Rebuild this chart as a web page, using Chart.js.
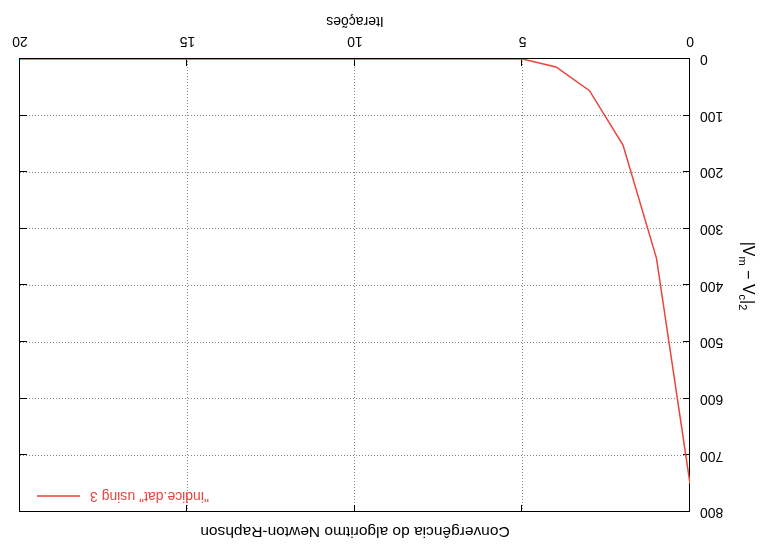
<!DOCTYPE html>
<html>
<head>
<meta charset="utf-8">
<title>Convergência do algoritmo Newton-Raphson</title>
<script src="https://cdn.jsdelivr.net/npm/chart.js@4.4.1/dist/chart.umd.min.js"></script>
<style>
    body { margin: 0; background: #fff; }
    #convChart { display: block; transform: rotate(180deg); }
</style>
</head>
<body>
<canvas id="convChart" width="763" height="544"></canvas>
<script>
// dados (iteracao x |Vm - Vc|2)
var iteracoes = [0, 1, 2, 3, 4, 5, 6, 7, 8, 9, 10, 11, 12, 13, 14, 15, 16, 17, 18, 19, 20];
var residuo = [750, 352, 152, 56, 14, 0, 0, 0, 0, 0, 0, 0, 0, 0, 0, 0, 0, 0, 0, 0, 0];
var xTicks = [0, 5, 10, 15, 20];
var yTicks = [0, 100, 200, 300, 400, 500, 600, 700, 800];

var titulo = 'Convergência do algoritmo Newton-Raphson';
var serieLabel = '"indice.dat" using 3';
var corSerie = '#e8453c';
var fonte = 'Liberation Sans, Arial, sans-serif';

var pontos = [];
for (var i = 0; i < iteracoes.length; i++) {
    pontos.push({ x: iteracoes[i], y: residuo[i] });
}

// moldura, ticks internos, titulo, legenda e rotulo do eixo y no estilo gnuplot
var GnuplotHelper = {
    id: 'gnuplotHelper',

    beforeDatasetsDraw: function (chart) {
        var c = chart.ctx;
        var a = chart.chartArea;
        var xs = chart.scales.x;
        var ys = chart.scales.y;
        var tl = 7;

        c.save();
        c.strokeStyle = '#000';
        c.lineWidth = 1;
        c.strokeRect(Math.round(a.left) + 0.5, Math.round(a.top) + 0.5,
            Math.round(a.right - a.left), Math.round(a.bottom - a.top));

        c.beginPath();
        xs.ticks.forEach(function (t) {
            var px = Math.round(xs.getPixelForValue(t.value)) + 0.5;
            c.moveTo(px, a.bottom); c.lineTo(px, a.bottom - tl);
            c.moveTo(px, a.top); c.lineTo(px, a.top + tl);
        });
        ys.ticks.forEach(function (t) {
            var py = Math.round(ys.getPixelForValue(t.value)) + 0.5;
            c.moveTo(a.left, py); c.lineTo(a.left + tl, py);
            c.moveTo(a.right, py); c.lineTo(a.right - tl, py);
        });
        c.stroke();
        c.restore();
    },

    afterDraw: function (chart) {
        var c = chart.ctx;
        var a = chart.chartArea;
        var ds = chart.data.datasets[0];

        // titulo centrado sobre a area do grafico
        c.save();
        c.font = '15.5px ' + fonte;
        c.fillStyle = '#000';
        c.textAlign = 'center';
        c.textBaseline = 'middle';
        c.fillText(titulo, (a.left + a.right) / 2, 13);
        c.restore();

        // legenda (texto a direita, amostra da linha)
        c.save();
        c.font = '14px ' + fonte;
        c.fillStyle = ds.borderColor;
        c.textAlign = 'right';
        c.textBaseline = 'middle';
        var ly = a.top + 16;
        c.fillText(ds.label, a.right - 70, ly);
        c.strokeStyle = ds.borderColor;
        c.lineWidth = ds.borderWidth;
        c.beginPath();
        c.moveTo(a.right - 60, ly);
        c.lineTo(a.right - 17, ly);
        c.stroke();
        c.restore();

        // rotulo do eixo y: |V_m - V_c|_2
        var partes = [
            { t: '|V', s: 16, d: 0 },
            { t: 'm', s: 11, d: 4 },
            { t: ' \u2212 V', s: 16, d: 0 },
            { t: 'c', s: 11, d: 4 },
            { t: '|', s: 16, d: 0 },
            { t: '2', s: 11, d: 4 }
        ];
        c.save();
        c.fillStyle = '#000';
        c.textBaseline = 'alphabetic';
        c.textAlign = 'left';
        var total = 0;
        partes.forEach(function (p) {
            c.font = p.s + 'px ' + fonte;
            total += c.measureText(p.t).width;
        });
        c.translate(20, 268);
        c.rotate(-Math.PI / 2);
        var pos = -total / 2;
        partes.forEach(function (p) {
            c.font = p.s + 'px ' + fonte;
            c.fillText(p.t, pos, p.d);
            pos += c.measureText(p.t).width;
        });
        c.restore();
    }
};

var ctx = document.getElementById('convChart');
var convChart = new Chart(ctx, {
    type: 'line',
    data: {
        datasets: [{
            label: serieLabel,
            data: pontos,
            borderColor: corSerie,
            backgroundColor: corSerie,
            borderWidth: 1.5,
            pointRadius: 0,
            tension: 0,
            fill: false
        }]
    },
    options: {
        responsive: false,
        animation: false,
        layout: {
            padding: { top: 32, right: 20, left: 0, bottom: 0 }
        },
        plugins: {
            legend: { display: false },
            tooltip: { enabled: false },
            title: { display: false }
        },
        scales: {
            x: {
                type: 'linear',
                min: 0,
                max: 20,
                afterBuildTicks: function (scale) {
                    scale.ticks = xTicks.map(function (v) { return { value: v }; });
                },
                afterFit: function (scale) { scale.height = 59; },
                ticks: {
                    color: '#000',
                    font: { family: fonte, size: 14 },
                    padding: 10,
                    maxRotation: 0
                },
                grid: { color: '#888', lineWidth: 1, drawTicks: false },
                border: { display: false, dash: [1, 2] },
                title: {
                    display: true,
                    text: 'Iterações',
                    color: '#000',
                    font: { family: fonte, size: 14 },
                    padding: { top: 0, bottom: 12 }
                }
            },
            y: {
                type: 'linear',
                min: 0,
                max: 800,
                afterBuildTicks: function (scale) {
                    scale.ticks = yTicks.map(function (v) { return { value: v }; });
                },
                afterFit: function (scale) { scale.width = 73; },
                ticks: {
                    color: '#000',
                    font: { family: fonte, size: 14 },
                    padding: 10
                },
                grid: { color: '#888', lineWidth: 1, drawTicks: false },
                border: { display: false, dash: [1, 2] }
            }
        }
    },
    plugins: [GnuplotHelper]
});
</script>
</body>
</html>
